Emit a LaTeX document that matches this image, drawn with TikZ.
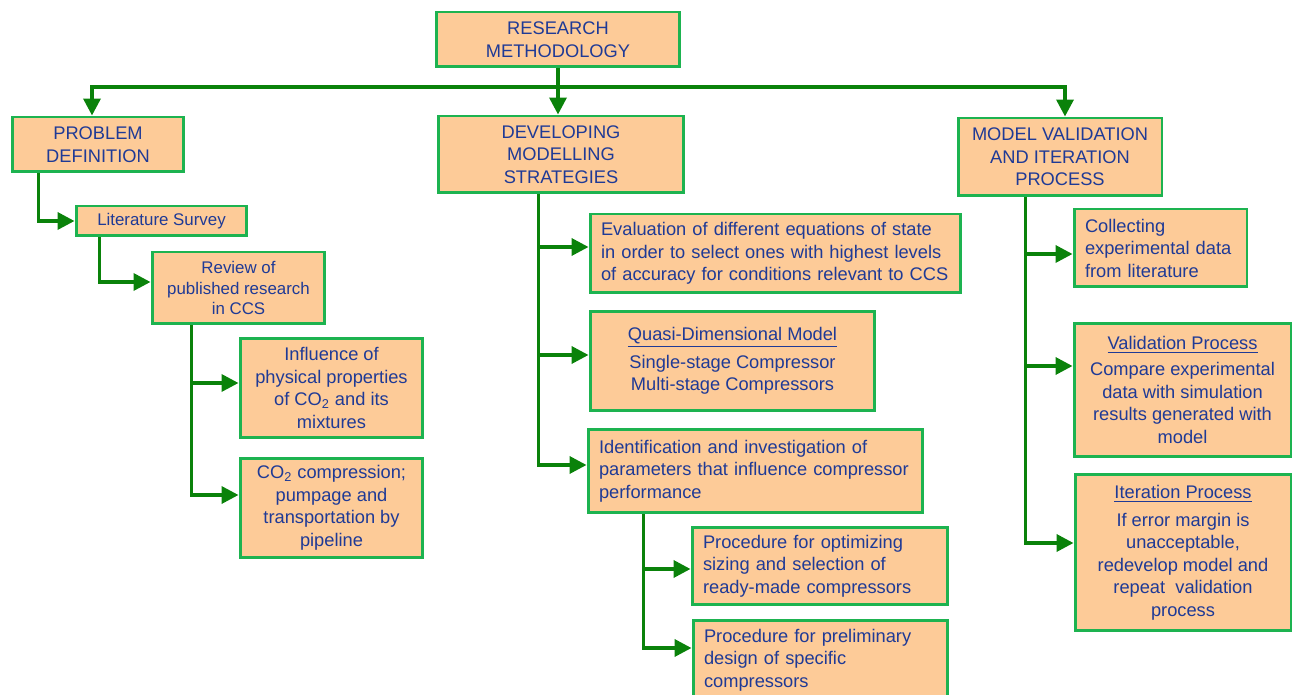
\documentclass[tikz,border=0pt]{standalone}
\usepackage{fontspec}
\setmainfont{Liberation Sans}
\usepackage{tikz}
\usetikzlibrary{arrows.meta, positioning}
\definecolor{rmFill}{HTML}{FDCB98}
\definecolor{rmEdge}{HTML}{1DB350}
\definecolor{rmLink}{HTML}{0A820A}
\definecolor{rmText}{HTML}{1F3A96}
\tikzset{
    % box styles
    pbox/.style={rectangle,draw=rmEdge,fill=rmFill,line width=1.7pt,text=rmText,inner sep=0pt,align=center,font=\fontsize{10.4}{12.8}\selectfont},
    lbox/.style={pbox,align=left,inner xsep=0.22cm,text width=#1},
    smallbox/.style={font=\fontsize{9.6}{11.4}\selectfont},
    % connector style
    link/.style={-{Triangle[length=0.34cm,width=0.34cm]},line width=2pt,rmLink}
}

\begin{document}
\begin{tikzpicture}[x=0.02cm, y=-0.02cm]
    \path[use as bounding box, clip] (0,0) rectangle (1298,695);

    % Top level
    \node[pbox, minimum width=4.88cm, minimum height=1.10cm] (root) at (558,39.5) {RESEARCH\\METHODOLOGY};

    % Main stages
    \node[pbox, minimum width=3.44cm, minimum height=1.10cm] (prob) at (98,144.5) {PROBLEM\\DEFINITION};
    \node[pbox, minimum width=4.92cm, minimum height=1.54cm] (dev) at (561,154.5) {DEVELOPING\\MODELLING\\STRATEGIES};
    \node[pbox, minimum width=4.08cm, minimum height=1.56cm] (valid) at (1060,157) {MODEL VALIDATION\\AND ITERATION\\PROCESS};

    % Problem definition branch
    \node[pbox, smallbox, minimum width=3.42cm, minimum height=0.60cm] (lit) at (161.5,221) {Literature Survey};
    \node[pbox, smallbox, minimum width=3.46cm, minimum height=1.44cm] (rev) at (238.5,288) {Review of\\published research\\in CCS};
    \node[pbox, minimum width=3.66cm, minimum height=2.0cm] (infl) at (331.5,388) {Influence of\\physical properties\\of CO\textsubscript{2} and its\\mixtures};
    \node[pbox, minimum width=3.66cm, minimum height=2.0cm] (comp) at (331.5,508) {CO\textsubscript{2} compression;\\pumpage and\\transportation by\\pipeline};

    % Modelling strategies branch
    \node[lbox=6.98cm, minimum height=1.58cm] (eos) at (775.5,253.5) {Evaluation of different equations of state\\in order to select ones with highest levels\\of accuracy for conditions relevant to CCS};
    \node[pbox, minimum width=5.70cm, minimum height=2.0cm] (quasi) at (732.5,361) {\underline{Quasi-Dimensional Model}\\[3pt]Single-stage Compressor\\Multi-stage Compressors};
    \node[lbox=6.26cm, minimum height=1.68cm] (ident) at (755.5,471) {Identification and investigation of\\parameters that influence compressor\\performance};
    \node[lbox=4.68cm, minimum height=1.56cm] (optim) at (820,566) {Procedure for optimizing\\sizing and selection of\\ready-made compressors};
    \node[lbox=4.66cm, minimum height=1.60cm] (prelim) at (820.5,660) {Procedure for preliminary\\design of specific\\compressors};

    % Validation branch
    \node[lbox=3.02cm, minimum height=1.56cm] (collect) at (1160.5,248) {Collecting\\experimental data\\from literature};
    \node[pbox, minimum width=4.34cm, minimum height=2.68cm] (vproc) at (1182.5,390) {\underline{Validation Process}\\[2pt]Compare experimental\\data with simulation\\results generated with\\model};
    \node[pbox, minimum width=4.32cm, minimum height=3.14cm] (iter) at (1183,552.5) {\underline{Iteration Process}\\[3pt]If error margin is\\unacceptable,\\redevelop model and\\repeat~ validation\\process};

    % Top connectors
    \coordinate (bus) at (559,87);
    \draw[link] (root.south) -- (root.south |- dev.north);
    \draw[link] (bus) -| ([xshift=-0.12cm]prob.north);
    \draw[link] (bus) -| ([xshift=0.1cm]valid.north);

    % Problem definition connectors
    \draw[link] ([xshift=0.56cm]prob.south west) |- (lit.west);
    \draw[link] ([xshift=0.5cm]lit.south west) |- ([yshift=0.12cm]rev.west);
    \draw[link] ([xshift=0.82cm]rev.south west) |- ([yshift=0.1cm]infl.west);
    \draw[link] ([xshift=0.82cm]rev.south west) |- ([yshift=0.26cm]comp.west);

    % Modelling strategies connectors
    \draw[link] ([xshift=2.04cm]dev.south west) |- ([yshift=0.13cm]eos.west);
    \draw[link] ([xshift=2.04cm]dev.south west) |- ([yshift=0.12cm]quasi.west);
    \draw[link] ([xshift=2.04cm]dev.south west) |- ([yshift=0.12cm]ident.west);
    \draw[link] ([xshift=1.14cm]ident.south west) |- ([yshift=-0.06cm]optim.west);
    \draw[link] ([xshift=1.14cm]ident.south west) |- ([yshift=0.24cm]prelim.west);

    % Validation connectors
    \draw[link] ([xshift=1.38cm]valid.south west) |- ([yshift=-0.12cm]collect.west);
    \draw[link] ([xshift=1.38cm]valid.south west) |- ([yshift=0.48cm]vproc.west);
    \draw[link] ([xshift=1.38cm]valid.south west) |- ([yshift=0.19cm]iter.west);
\end{tikzpicture}
\end{document}
